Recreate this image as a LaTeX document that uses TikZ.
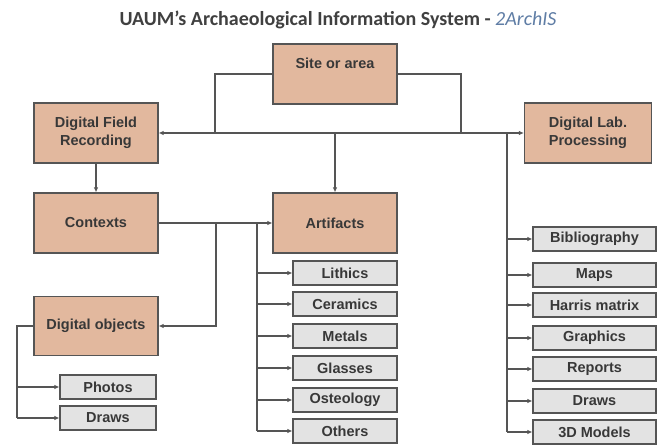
\documentclass[tikz,border=0pt]{standalone}
\usepackage{fontspec}
\setmainfont{Liberation Sans}
\newfontfamily\titlefont{Carlito}
\usetikzlibrary{arrows.meta}

\definecolor{boxorange}{RGB}{226,184,158}
\definecolor{boxgray}{RGB}{227,227,227}
\definecolor{linegray}{RGB}{85,85,85}
\definecolor{titleblue}{RGB}{95,125,165}

\begin{document}
\begin{tikzpicture}[x=1pt, y=-1pt, >={Latex[length=5pt,width=4.5pt]},
    font=\bfseries\fontsize{14.5}{18}\selectfont,
    mainbox/.style={draw=linegray, line width=1.2pt, fill=boxorange, text=black!78,
        minimum width=124pt, minimum height=60pt, align=center, inner sep=2pt},
    leafbox/.style={draw=linegray, line width=1.2pt, fill=boxgray, text=black!78,
        minimum height=24pt, inner sep=1pt},
    link/.style={draw=linegray, line width=1.3pt}]

    \useasboundingbox (0,0) rectangle (661,446);

    % Title
    \node (title) at (338,20) {\titlefont\fontsize{20}{22}\selectfont
        \textcolor{black!75}{UAUM’s Archaeological Information System -} \textcolor{titleblue}{\mdseries\itshape 2ArchIS}};

    % === MAIN BOXES ===
    \node[mainbox, text depth=22pt] (site) at (335,74) {Site or area};
    \node[mainbox] (dfr) at (96,133) {Digital Field\\Recording};
    \node[mainbox, minimum width=127pt] (dlp) at (588,133) {Digital Lab.\\Processing};
    \node[mainbox] (ctx) at (96,223) {Contexts};
    \node[mainbox] (art) at (335,223) {Artifacts};
    \node[mainbox, minimum height=59pt] (dobj) at (96,326) {Digital objects};

    % Bus points
    \coordinate (siteL) at (215,133);
    \coordinate (siteR) at (461,133);
    \coordinate (ctxbus) at (216,223);
    \coordinate (artbus) at (257,223);
    \coordinate (objbus) at (17,326);
    \coordinate (labbus) at (507,133);

    % === TOP CONNECTORS ===
    \draw[link] (site.west) -| (siteL);
    \draw[link] (site.east) -| (siteR);
    \draw[link, <->] (dfr.east) -- (dlp.west);
    \draw[link, ->] (art.north |- dfr.east) -- (art.north);
    \draw[link, ->] (dfr.south) -- (ctx.north);
    \draw[link, ->] (ctx.east) -- (art.west);
    \draw[link, ->] (ctxbus) |- (dobj.east);

    % === ARTIFACT TYPES ===
    \foreach \name/\txt/\y in {lith/Lithics/273, cer/Ceramics/304, met/Metals/336,
            gla/Glasses/368, ost/Osteology/400, oth/Others/431} {
        \node[leafbox, minimum width=104pt] (\name) at (345,\y) {\txt};
        \draw[link, ->] (artbus |- \name.west) -- (\name.west);
    }
    \draw[link] (artbus) -- (artbus |- oth.west);

    % === DIGITAL OBJECTS ===
    \foreach \name/\txt/\y in {pho/Photos/387, drw/Draws/418} {
        \node[leafbox, minimum width=96pt] (\name) at (108,\y) {\txt};
        \draw[link, ->] (objbus |- \name.west) -- (\name.west);
    }
    \draw[link] (dobj.west) -- (objbus) -- (objbus |- drw.west);

    % === LAB OUTPUTS ===
    \foreach \name/\txt/\y in {bib/Bibliography/239, map/Maps/275, har/Harris matrix/305,
            gra/Graphics/338, rep/Reports/369, ldr/Draws/401, mod/3D Models/432} {
        \node[leafbox, minimum width=123pt] (\name) at (594.5,\y) {\txt};
        \draw[link, ->] (labbus |- \name.west) -- (\name.west);
    }
    \draw[link] (labbus) -- (labbus |- mod.west);

\end{tikzpicture}
\end{document}
